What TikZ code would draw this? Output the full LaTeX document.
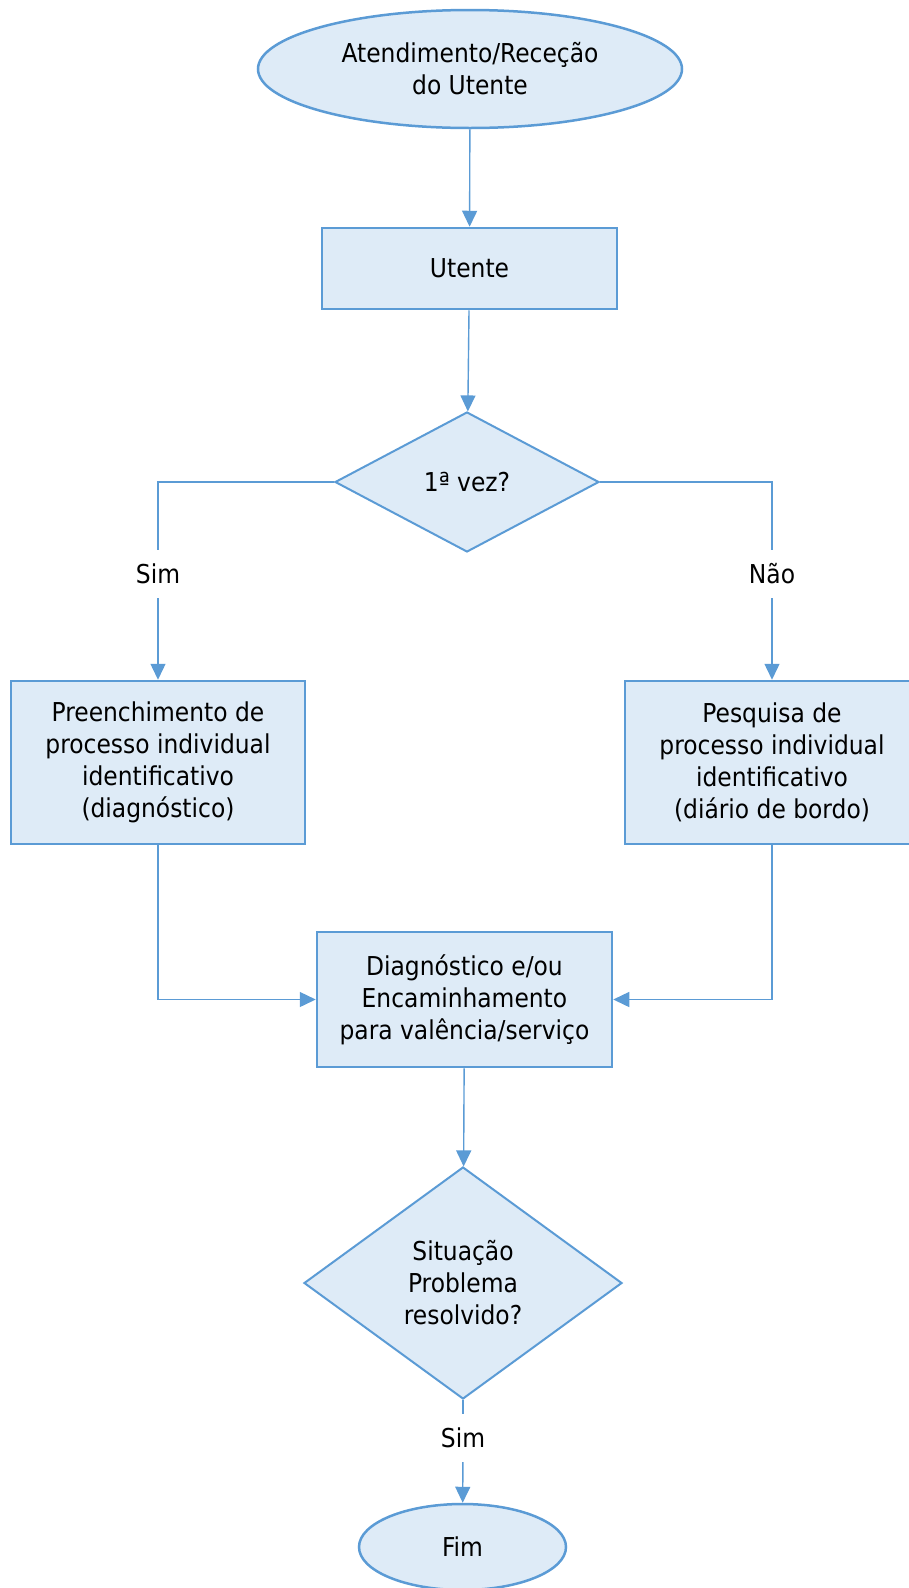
\documentclass[tikz,border=0pt]{standalone}
\usepackage{fontspec}
\setmainfont{DejaVu Sans Condensed}
\usetikzlibrary{shapes.geometric,arrows.meta}
\usepackage{xcolor}
\definecolor{bordaAzul}{HTML}{5B9BD5}
\definecolor{fundoAzul}{HTML}{DEEBF7}

\begin{document}
\begin{tikzpicture}[x=1pt,y=1pt,font=\fontsize{26pt}{32pt}\selectfont,
		caixa/.style={draw=bordaAzul,fill=fundoAzul,line width=2.5pt,align=center,inner sep=0pt},
		decisao/.style={diamond,draw=bordaAzul,fill=fundoAzul,line width=2pt,align=center,inner sep=0pt},
		terminal/.style={ellipse,draw=bordaAzul,fill=fundoAzul,line width=2.5pt,align=center,inner sep=0pt},
		rotulo/.style={fill=white,inner sep=0pt,minimum height=48pt},
		linha/.style={draw=bordaAzul,line width=1.4pt},
		seta/.style={linha,-{Triangle[width=15pt,length=16pt]}}]

		\clip (0,0) rectangle (909,-1588); % Page size of the reference

		% Start and first box
		\node[terminal,minimum width=424pt,minimum height=118pt] (Inicio) at (470,-69) {Atendimento/Receção\\do Utente};
		\node[caixa,minimum width=295pt,minimum height=81pt] (Utente) at (469.5,-268.5) {Utente};
		\node[decisao,minimum width=264pt,minimum height=140pt] (PrimeiraVez) at (467,-482) {1ª vez?};

		% The two branches
		\node[rotulo] (SimA) at (158,-574) {Sim};
		\node[rotulo] (NaoA) at (772,-574) {Não};
		\node[caixa,minimum width=294pt,minimum height=163pt] (Preench) at (158,-762.5)
			{Preenchimento de\\processo individual\\identificativo\\(diagnóstico)};
		\node[caixa,minimum width=294pt,minimum height=163pt] (Pesquisa) at (772,-762.5)
			{Pesquisa de\\processo individual\\identificativo\\(diário de bordo)};

		% Joined again
		\node[caixa,minimum width=295pt,minimum height=135pt] (Diagn) at (464.5,-999.5)
			{Diagnóstico e/ou\\Encaminhamento\\para valência/serviço};
		\node[decisao,minimum width=318pt,minimum height=232pt] (Situacao) at (463,-1283)
			{Situação\\Problema\\resolvido?};
		\node[rotulo] (SimB) at (463,-1438) {Sim};
		\node[terminal,minimum width=207pt,minimum height=86pt] (Fim) at (462.5,-1547) {Fim};

		\draw[seta] (Inicio) -- (Utente);
		\draw[seta] (Utente) -- (PrimeiraVez);
		\draw[linha] (PrimeiraVez.west) -| (SimA.north);
		\draw[seta] (SimA) -- (Preench);
		\draw[linha] (PrimeiraVez.east) -| (NaoA.north);
		\draw[seta] (NaoA) -- (Pesquisa);
		\draw[seta] (Preench.south) |- (Diagn.west);
		\draw[seta] (Pesquisa.south) |- (Diagn.east);
		\draw[seta] (Diagn) -- (Situacao);
		\draw[linha] (Situacao.south) -- (SimB.north);
		\draw[seta] (SimB) -- (Fim);
	  \end{tikzpicture}
\end{document}
